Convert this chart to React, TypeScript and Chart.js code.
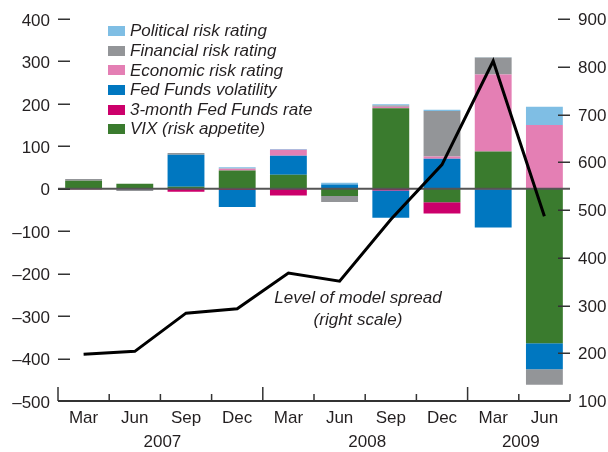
import React, { useEffect, useRef } from "react";
import { Chart, registerables } from "chart.js";

Chart.register(...registerables);

// ---- data ----
const categories = ["Mar", "Jun", "Sep", "Dec", "Mar", "Jun", "Sep", "Dec", "Mar", "Jun"];
const categoryYears = ["2007", "2007", "2007", "2007", "2008", "2008", "2008", "2008", "2009", "2009"];

const vix = [19, 12, 5, 43, 33, -17, 190, -32, 88, -364];
const threeMonthRate = [0, 0, -7, -3, -16, 2, -4, -26, -1, 0];
const fedFundsVol = [0, -1, 75, -40, 45, 8, -64, 71, -90, -61];
const economicRisk = [-2, -1, 0, 4, 14, 0, 3, 5, 181, 150];
const financialRisk = [4, -3, 4, 1, 0, -14, 3, 107, 40, -37];
const politicalRisk = [0, 0, 0, 3, 2, 4, 3, 3, 1, 43];

const modelSpread = [198, 204, 284, 293, 368, 351, 480, 595, 812, 487];

const leftMin = -500;
const leftMax = 400;
const rightMin = 100;
const rightMax = 900;
const tickStep = 100;

// bottom-up stacking order
const seriesNames = [
  "VIX (risk appetite)",
  "3-month Fed Funds rate",
  "Fed Funds volatility",
  "Economic risk rating",
  "Financial risk rating",
  "Political risk rating",
];
const seriesValues = [vix, threeMonthRate, fedFundsVol, economicRisk, financialRisk, politicalRisk];
const seriesColors = ["#3a7b2e", "#cc006b", "#0077c0", "#e47fb4", "#939598", "#7fbee4"];

const lineLabel = ["Level of model spread", "(right scale)"];

const FONT = "'Liberation Sans', Arial, Helvetica, sans-serif";
const TEXT = "#231f20";

const axesPlugin = {
  id: "customAxes",
  beforeDatasetDraw(chart: any, args: any) {
    if (args.index !== 0) return;
    const { ctx, chartArea } = chart;
    const y0 = chart.scales.y.getPixelForValue(0);
    ctx.save();
    ctx.strokeStyle = "#555555";
    ctx.lineWidth = 2;
    ctx.beginPath();
    ctx.moveTo(chartArea.left, y0);
    ctx.lineTo(chartArea.right, y0);
    ctx.stroke();
    ctx.restore();
  },
  afterDraw(chart: any) {
    const { ctx, chartArea, scales } = chart;
    const xs = scales.x;
    const ys = scales.y;
    const ys2 = scales.y2;
    ctx.save();
    ctx.strokeStyle = "#333333";
    ctx.lineWidth = 1.5;
    // y tick dashes
    ys.ticks.forEach((t: any) => {
      const py = Math.round(ys.getPixelForValue(t.value)) + 0.25;
      if (t.value === leftMin) return;
      ctx.beginPath();
      ctx.moveTo(chartArea.left, py);
      ctx.lineTo(chartArea.left + 12, py);
      ctx.stroke();
    });
    ys2.ticks.forEach((t: any) => {
      const py = Math.round(ys2.getPixelForValue(t.value)) + 0.25;
      if (t.value === rightMin) return;
      ctx.beginPath();
      ctx.moveTo(chartArea.right - 12, py);
      ctx.lineTo(chartArea.right, py);
      ctx.stroke();
    });
    // x axis line
    const bottom = chartArea.bottom;
    ctx.lineWidth = 2;
    ctx.beginPath();
    ctx.moveTo(chartArea.left, bottom);
    ctx.lineTo(chartArea.right, bottom);
    ctx.stroke();
    // category boundary ticks
    const n = categories.length;
    const half = (xs.getPixelForValue(1) - xs.getPixelForValue(0)) / 2;
    ctx.lineWidth = 1.5;
    for (let i = 0; i <= n; i++) {
      const px = i < n ? xs.getPixelForValue(i) - half : xs.getPixelForValue(n - 1) + half;
      const big = i === 0 || (i < n && categoryYears[i] !== categoryYears[i - 1]);
      ctx.beginPath();
      ctx.moveTo(px, bottom);
      ctx.lineTo(px, bottom - (big ? 14 : 7));
      ctx.stroke();
    }
    // year labels
    ctx.fillStyle = TEXT;
    ctx.font = `17px ${FONT}`;
    ctx.textAlign = "center";
    ctx.textBaseline = "middle";
    const years = Array.from(new Set(categoryYears));
    years.forEach((yr) => {
      const first = categoryYears.indexOf(yr);
      const last = categoryYears.lastIndexOf(yr);
      const cx = (xs.getPixelForValue(first) + xs.getPixelForValue(last)) / 2 + 2;
      ctx.fillText(yr, cx, bottom + 41);
    });
    ctx.restore();
  },
};

function minusLabel(v: number) {
  return v < 0 ? "\u2013" + Math.abs(v) : String(v);
}

export default function App() {
  const ref = useRef<HTMLCanvasElement | null>(null);

  useEffect(() => {
    if (!ref.current) return;
    const datasets: any[] = [
      {
        type: "line",
        label: "Level of model spread",
        data: modelSpread,
        yAxisID: "y2",
        borderColor: "#000000",
        borderWidth: 3,
        pointRadius: 0,
        tension: 0,
        fill: false,
        borderJoinStyle: "miter",
        order: 0,
      },
      ...seriesNames.map((name, i) => ({
        type: "bar",
        label: name,
        data: seriesValues[i],
        backgroundColor: seriesColors[i],
        borderWidth: 0,
        yAxisID: "y",
        barPercentage: 0.72,
        categoryPercentage: 1.0,
        order: 1,
      })),
    ];
    const chart = new Chart(ref.current, {
      type: "bar",
      data: { labels: categories, datasets },
      options: {
        responsive: false,
        animation: false,
        layout: { padding: { top: 19, left: 0, right: 0, bottom: 0 } },
        plugins: { legend: { display: false }, tooltip: { enabled: false } },
        scales: {
          x: {
            stacked: true,
            grid: { display: false, drawTicks: false },
            border: { display: false },
            ticks: {
              padding: 7,
              color: TEXT,
              font: { size: 17, family: FONT },
              maxRotation: 0,
              autoSkip: false,
            },
            afterFit: (s: any) => {
              s.height = 51;
            },
          },
          y: {
            stacked: true,
            position: "left",
            min: leftMin,
            max: leftMax,
            grid: { display: false, drawTicks: false },
            border: { display: false },
            ticks: {
              stepSize: tickStep,
              padding: 8,
              labelOffset: 2,
              color: TEXT,
              font: { size: 17, family: FONT },
              callback: (v: any) => minusLabel(Number(v)),
            },
            afterFit: (s: any) => {
              s.width = 58;
            },
          },
          y2: {
            position: "right",
            min: rightMin,
            max: rightMax,
            grid: { display: false, drawTicks: false },
            border: { display: false },
            ticks: {
              stepSize: tickStep,
              padding: 8,
              labelOffset: 1.5,
              color: TEXT,
              font: { size: 17, family: FONT },
            },
            afterFit: (s: any) => {
              s.width = 38;
            },
          },
        },
      } as any,
      plugins: [axesPlugin],
    });
    return () => chart.destroy();
  }, []);

  const legendOrder = [5, 4, 3, 2, 1, 0];

  return (
    <div style={{ position: "fixed", left: 0, top: 0, width: 608, height: 452, background: "#ffffff" }}>
      <canvas ref={ref} width={608} height={452} style={{ display: "block", width: 608, height: 452 }} />
      <div style={{ position: "absolute", left: 108, top: 21.4, fontFamily: FONT, fontSize: 17, fontStyle: "italic", color: TEXT }}>
        {legendOrder.map((idx) => (
          <div key={idx} style={{ display: "flex", alignItems: "center", height: 19.6, lineHeight: "19.6px", whiteSpace: "nowrap" }}>
            <span style={{ display: "inline-block", width: 17, height: 10, background: seriesColors[idx], marginRight: 5 }} />
            <span>{seriesNames[idx]}</span>
          </div>
        ))}
      </div>
      <div
        style={{
          position: "absolute",
          left: 258,
          top: 287.2,
          width: 200,
          textAlign: "center",
          fontFamily: FONT,
          fontSize: 17,
          fontStyle: "italic",
          lineHeight: "22px",
          color: TEXT,
        }}
      >
        <div>{lineLabel[0]}</div>
        <div>{lineLabel[1]}</div>
      </div>
    </div>
  );
}
